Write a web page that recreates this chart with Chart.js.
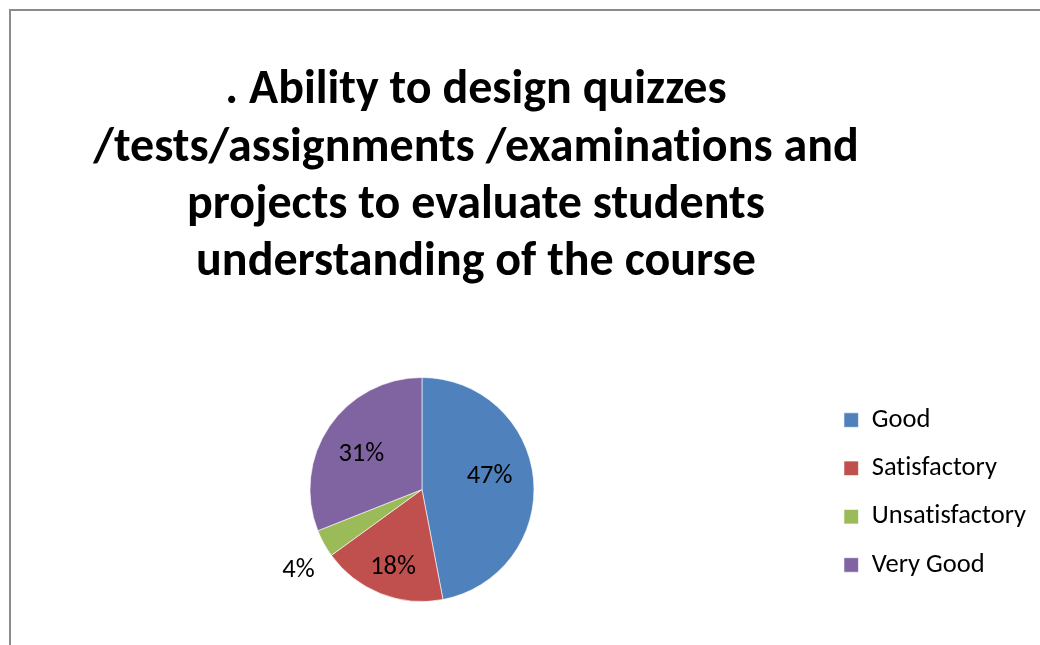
<!DOCTYPE html>
<html>
<head>
<meta charset="utf-8">
<script src="https://cdn.jsdelivr.net/npm/chart.js@4.4.1/dist/chart.umd.min.js"></script>
<style>
  html, body { margin: 0; padding: 0; background: #ffffff; overflow: hidden; }
  #wrap { position: relative; width: 1040px; height: 645px; }
  #frame { position: absolute; left: 9px; top: 9px; width: 1100px; height: 700px;
           border-left: 2px solid #8c8c8c; border-top: 2px solid #8c8c8c; box-sizing: border-box; }
  #c { position: absolute; left: 0; top: 0; }
</style>
</head>
<body>
<div id="wrap">
  <div id="frame"></div>
  <canvas id="c" width="1040" height="645"></canvas>
</div>
<script>
// ---- data ----
const categories = ['Good', 'Satisfactory', 'Unsatisfactory', 'Very Good'];
const values = [47, 18, 4, 31];
const sliceColors = ['#4F81BD', '#C0504D', '#9BBB59', '#8064A2'];
const titleLines = [
  '. Ability to design quizzes',
  '/tests/assignments /examinations and',
  'projects to evaluate students',
  'understanding of the course'
];

const FONT = 'Carlito, Calibri, Lato, sans-serif';
const total = values.reduce((a, b) => a + b, 0);

// label placement style: radius fraction and angular nudge (degrees) per slice
const labelPlacement = [
  { r: 0.62, a: -7.8 },
  { r: 0.72, a: -0.6 },
  { r: 1.307, a: -3.7 },
  { r: 0.636, a: -2.6 }
];
const labelDy = 2.5;

// turn off optional ligatures (e.g. "ti") like the original rendering
const noLigatures = {
  id: 'noLigatures',
  beforeInit(chart) { chart.ctx.letterSpacing = '0.01px'; },
  beforeDraw(chart) { chart.ctx.letterSpacing = '0.01px'; }
};

const pieLabels = {
  id: 'pieLabels',
  afterDatasetsDraw(chart) {
    const ctx = chart.ctx;
    const meta = chart.getDatasetMeta(0);
    ctx.save();
    ctx.font = '26.5px ' + FONT;
    ctx.fillStyle = '#000000';
    ctx.textAlign = 'center';
    ctx.textBaseline = 'middle';
    meta.data.forEach((arc, i) => {
      const p = arc.getProps(['x', 'y', 'startAngle', 'endAngle', 'outerRadius'], true);
      const pl = labelPlacement[i];
      const mid = (p.startAngle + p.endAngle) / 2 + pl.a * Math.PI / 180;
      const x = p.x + Math.cos(mid) * p.outerRadius * pl.r;
      const y = p.y + Math.sin(mid) * p.outerRadius * pl.r + labelDy;
      ctx.fillText(Math.round(values[i] / total * 100) + '%', x, y);
    });
    ctx.restore();
  }
};

// centre the title over the whole chart frame, nudge legend down slightly
const boxTweaks = {
  id: 'boxTweaks',
  afterLayout(chart) {
    const t = chart.titleBlock;
    if (t) { t.left = 10; t.right = 942; }
    const l = chart.legend;
    if (l) { l.top += 3; l.bottom += 3; }
  }
};

new Chart(document.getElementById('c'), {
  type: 'pie',
  data: {
    labels: categories,
    datasets: [{
      data: values,
      backgroundColor: sliceColors,
      borderColor: 'rgba(255,255,255,0.6)',
      borderWidth: 1
    }]
  },
  plugins: [noLigatures, pieLabels, boxTweaks],
  options: {
    responsive: false,
    animation: false,
    layout: { padding: { left: 21.8, right: 4.25, top: 0, bottom: 43 } },
    plugins: {
      tooltip: { enabled: false },
      title: {
        display: true,
        text: titleLines,
        color: '#000000',
        font: { family: FONT, size: 48, weight: 'bold', lineHeight: '57.2px' },
        padding: { top: 62.7, bottom: 85.5 }
      },
      legend: {
        position: 'right',
        align: 'center',
        fullSize: false,
        labels: {
          color: '#000000',
          font: { family: FONT, size: 26.5 },
          boxWidth: 14.5,
          boxHeight: 14.5,
          padding: 21.8
        }
      }
    }
  }
});
</script>
</body>
</html>
